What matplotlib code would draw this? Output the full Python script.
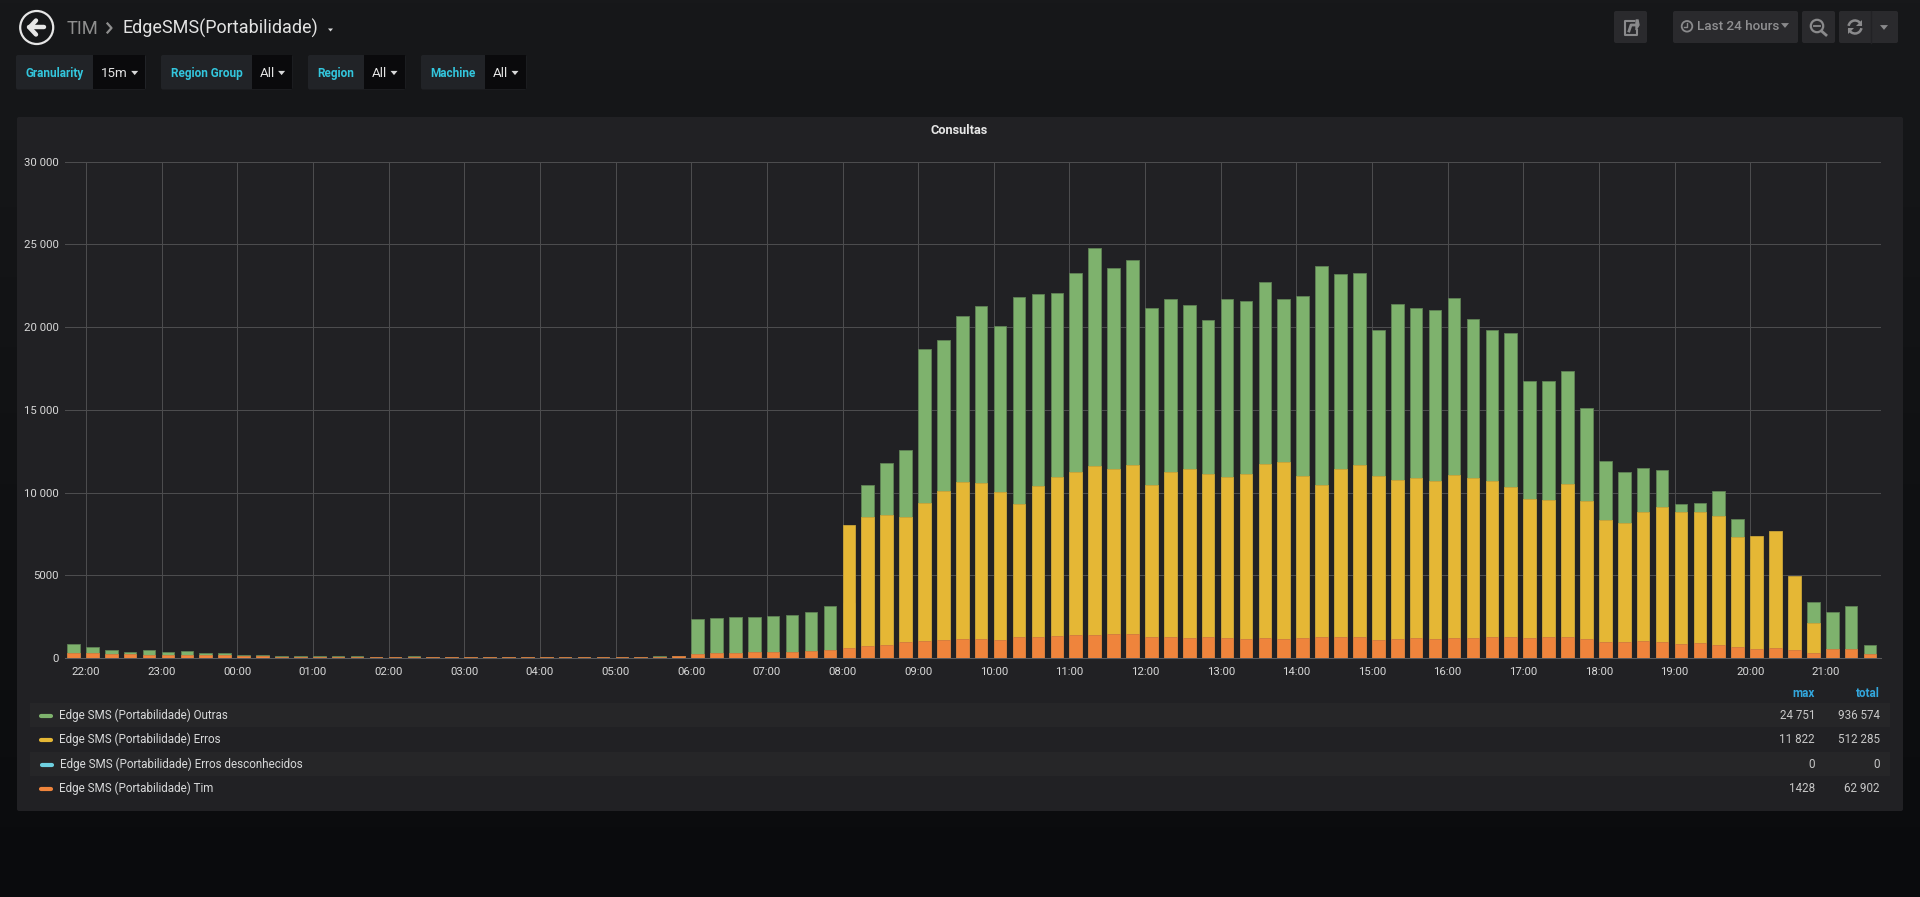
import numpy as np
import pandas as pd
import matplotlib
matplotlib.use("Agg")
import matplotlib.pyplot as plt
import matplotlib.dates as mdates
from matplotlib.patches import Circle, FancyBboxPatch, Polygon, Rectangle, Arc

plt.rcParams["font.family"] = ["Roboto", "DejaVu Sans"]

# 15 minute bins, 21:45 up to 21:30 of the next day
times = pd.date_range("2018-01-01 21:45", periods=96, freq="15min")

outras = [845, 684, 463, 382, 503, 382, 402, 282, 282, 161, 201, 141, 141, 120, 100, 120,
          80, 70, 100, 70, 70, 70, 70, 90, 70, 90, 60, 70, 70, 90, 90, 120, 100,
          2355, 2415, 2496, 2476, 2536, 2617, 2758, 3160,
          3300, 10447, 11776, 12581, 18660, 19224, 20653, 21257, 20070, 21821, 22022, 22083,
          23290, 24751, 23552, 24036, 21177, 21680, 21318, 20412, 21680, 21560, 22747, 21700,
          21861, 23713, 23190, 23270, 19848, 21378, 21137, 21036, 21740, 20513, 19820, 19650,
          16710, 16750, 17350, 15098, 11897, 11253, 11454, 11374, 9320, 9361, 10085, 8394,
          6000, 5000, 3500, 3362, 2798, 3160, 805]

erros = [0] * 41 + [8032, 8515, 8636, 8495, 9360, 10105, 10649, 10568, 10045, 9320, 10367, 10951,
                    11233, 11615, 11434, 11655, 10468, 11233, 11434, 11132, 10951, 11132, 11716, 11822,
                    11011, 10468, 11434, 11655, 11011, 10770, 10891, 10709, 11071, 10850, 10669, 10347,
                    9602, 9562, 10488, 9461, 8314, 8173, 8837, 9119, 8837, 8797, 8596, 7327,
                    7368, 7650, 4932, 2134, 0, 0, 0]

tim = [282, 302, 262, 262, 201, 201, 161, 161, 161, 141, 100, 80, 80, 80, 60, 60,
       50, 50, 50, 50, 50, 50, 50, 50, 50, 50, 40, 50, 50, 60, 60, 70, 141,
       242, 282, 282, 342, 382, 382, 443, 503,
       624, 745, 805, 946, 1027, 1107, 1127, 1168, 1107, 1288, 1248, 1308,
       1389, 1409, 1428, 1428, 1288, 1268, 1228, 1288, 1228, 1168, 1228, 1168,
       1188, 1288, 1288, 1248, 1107, 1168, 1228, 1168, 1228, 1188, 1268, 1288,
       1228, 1288, 1248, 1168, 986, 986, 1006, 946, 825, 906, 805, 684,
       564, 624, 463, 322, 564, 544, 262]

series_names = ["Edge SMS (Portabilidade) Outras", "Edge SMS (Portabilidade) Erros",
                "Edge SMS (Portabilidade) Erros desconhecidos", "Edge SMS (Portabilidade) Tim"]
series_colors = ["#7eb26d", "#e5b735", "#6ed0e0", "#ef843c"]
series_max = ["24 751", "11 822", "0", "1428"]
series_total = ["936 574", "512 285", "0", "62 902"]

y_ticks = [0, 5000, 10000, 15000, 20000, 25000, 30000]
y_labels = ["0", "5000", "10 000", "15 000", "20 000", "25 000", "30 000"]

W, H = 1920, 897
fig = plt.figure(figsize=(W / 100, H / 100), dpi=100)

# page chrome is drawn in pixel coordinates
bg = fig.add_axes([0, 0, 1, 1], zorder=0)
bg.set_xlim(0, W)
bg.set_ylim(H, 0)
bg.axis("off")
grad = np.linspace(0, 1, 256).reshape(-1, 1)
top = np.array([0x17, 0x18, 0x1a]) / 255
bottom = np.array([0x0a, 0x0b, 0x0d]) / 255
bg.imshow(top + grad[..., None] * (bottom - top), extent=[0, W, H, 0], aspect="auto", zorder=0)
bg.set_xlim(0, W)
bg.set_ylim(H, 0)


def box(x0, y0, x1, y1, color, z=1):
    bg.add_patch(FancyBboxPatch((x0 + 2, y0 + 2), x1 - x0 - 4, y1 - y0 - 4, boxstyle="round,pad=2",
                                fc=color, ec="none", zorder=z))


def caret(x, y, size=3.5, color="#d8d9da"):
    bg.add_patch(Polygon([[x - size, y - size * 0.6], [x + size, y - size * 0.6], [x, y + size * 0.6]],
                         fc=color, ec="none", zorder=3))


# title bar
bg.add_patch(Circle((36.7, 27.5), 16.5, fc="none", ec="#e6e6e6", lw=1.6, zorder=3))
bg.plot([29, 44], [27.5, 27.5], color="#e6e6e6", lw=3.2, solid_capstyle="round", zorder=3)
bg.plot([36, 29.5, 36], [20.5, 27.5, 34.5], color="#e6e6e6", lw=3.2, solid_capstyle="round", zorder=3)
bg.text(67, 28.5, "TIM", color="#8e8e8e", fontsize=13.2, va="center", zorder=3)
bg.plot([107.5, 111.5, 107.5], [23.5, 28, 32.5], color="#8e8e8e", lw=1.6, zorder=3)
bg.text(123, 28.5, "EdgeSMS(Portabilidade)", color="#e3e3e3", fontsize=13, va="center", zorder=3)
caret(330.5, 30, 2.5)

# template variables
variables = [("Granularity", "15m"), ("Region Group", "All"), ("Region", "All"), ("Machine", "All")]
var_edges = [(16, 93, 146), (161, 252, 292.5), (308, 364, 405.5), (421, 484.5, 526.5)]
value_x = [101, 259.6, 372, 493]
caret_x = [134.7, 281.6, 394, 515]
for (label, value), (x0, x1, x2), vx, cx in zip(variables, var_edges, value_x, caret_x):
    box(x0, 55, x2, 89.5, "#212327")
    bg.add_patch(Rectangle((x1, 55.5), x2 - x1 - 1, 33.5, fc="#0a0a0c", ec="none", zorder=2))
    bg.text((x0 + x1) / 2, 73.5, label, color="#33c6dd", fontsize=8.5, fontweight="bold",
            ha="center", va="center", zorder=3)
    bg.text(vx, 73.5, value, color="#e3e3e3", fontsize=9.6, va="center", zorder=3)
    caret(cx, 73)

# toolbar on the right
for x0, x1 in [(1614, 1647), (1673, 1798), (1802, 1835), (1839, 1898)]:
    box(x0, 11, x1, 43, "#2a2a2d")
bg.plot([1870.7, 1870.7], [11, 43], color="#222225", lw=1, zorder=3)
icon = "#8a8a8c"
bg.plot([1634, 1625, 1625, 1637, 1637], [21, 21, 35, 35, 30], color=icon, lw=1.5, zorder=3)
bg.plot([1629, 1631, 1637], [31, 25, 25], color=icon, lw=2, zorder=3)
bg.add_patch(Polygon([[1636, 20], [1638, 20], [1639, 25], [1636, 30]], fc=icon, ec=icon, zorder=3))
bg.add_patch(Circle((1687, 26.3), 5.3, fc="none", ec=icon, lw=1.3, zorder=3))
bg.plot([1687, 1687, 1684], [23, 26.8, 26.8], color=icon, lw=1, zorder=3)
bg.text(1696.7, 26.5, "Last 24 hours", color="#8f8f91", fontsize=9.7, fontweight="medium", va="center", zorder=3)
caret(1785, 25.5, 4, icon)
bg.add_patch(Circle((1817, 26), 6.2, fc="none", ec=icon, lw=1.6, zorder=3))
bg.plot([1814, 1820], [26, 26], color=icon, lw=1.3, zorder=3)
bg.plot([1821.5, 1826], [31, 35], color=icon, lw=2, zorder=3)
bg.add_patch(Arc((1855, 27), 13, 13, theta1=190, theta2=340, ec=icon, lw=1.8, zorder=3))
bg.add_patch(Arc((1855, 27), 13, 13, theta1=10, theta2=160, ec=icon, lw=1.8, zorder=3))
bg.add_patch(Polygon([[1862, 20], [1862, 26], [1856, 26]], fc=icon, ec="none", zorder=3))
bg.add_patch(Polygon([[1848, 34], [1848, 28], [1854, 28]], fc=icon, ec="none", zorder=3))
caret(1884, 27.5, 4, icon)

# panel
box(17, 117, 1903, 811, "#212124")
bg.text(959.5, 130.5, "Consultas", color="#e6e6e6", fontsize=9.2, fontweight="bold", ha="center", va="center", zorder=3)

# legend table
row_y = [715.5, 739.5, 764.5, 788.5]
for i, row in enumerate(row_y):
    if i % 2 == 0:
        bg.add_patch(Rectangle((29.5, row - 12), 1860.5, 24, fc="#262628", ec="none", zorder=2))
    off = 1 if i == 2 else 0
    bg.plot([41 + off, 51 + off], [row + 1, row + 1], color=series_colors[i], lw=3,
            solid_capstyle="round", zorder=3)
    bg.text(59 + off, row, series_names[i], color="#d8d9da", fontsize=8.4, va="center", zorder=3)
    bg.text(1815, row, series_max[i], color="#c8c8c8", fontsize=8.4, ha="right", va="center", zorder=3)
    bg.text(1880, row, series_total[i], color="#c8c8c8", fontsize=8.4, ha="right", va="center", zorder=3)
bg.text(1815, 693.5, "max", color="#33a7dd", fontsize=8.4, fontweight="bold", ha="right", va="center", zorder=3)
bg.text(1880, 693.5, "total", color="#33a7dd", fontsize=8.4, fontweight="bold", ha="right", va="center", zorder=3)

# chart
left, right, ytop, ybase = 65, 1881, 161.5, 658
ax = fig.add_axes([left / W, (H - ybase) / H, (right - left) / W, (ybase - ytop) / H], zorder=1)
ax.patch.set_visible(False)

px_per_hour = 75.65
t0 = pd.Timestamp("2018-01-01 22:00")
ax.set_xlim(t0 - pd.Timedelta(hours=(86 - left) / px_per_hour), t0 + pd.Timedelta(hours=(right - 86) / px_per_hour))
ax.set_ylim(0, 30000)

bar_w = pd.Timedelta(minutes=10).total_seconds() / 86400
# bars overlap, they are not stacked: the max column of the legend is the bar height
for vals, col, edge, z in [(outras, series_colors[0], "#5f8155", 3),
                           (erros, series_colors[1], "#c9a338", 4),
                           (tim, series_colors[3], "#d17a3e", 5)]:
    ax.bar(times, vals, width=bar_w, align="edge", color=col, edgecolor=edge, linewidth=0.6, zorder=z)

ax.set_yticks(y_ticks, y_labels)
ax.xaxis.set_major_locator(mdates.HourLocator())
ax.xaxis.set_major_formatter(mdates.DateFormatter("%H:%M"))
ax.grid(True, color="#4c4c4e", lw=0.75, zorder=1)
ax.set_axisbelow(True)
ax.tick_params(axis="both", length=0, labelsize=8.2, labelcolor="#d8d8d8")
ax.tick_params(axis="x", pad=6.5)
ax.tick_params(axis="y", pad=4.3)
for name in ["top", "right", "left"]:
    ax.spines[name].set_visible(False)
ax.spines["bottom"].set_color("#5a5a5c")
ax.spines["bottom"].set_linewidth(0.75)

fig.savefig("out.png", dpi=100)
